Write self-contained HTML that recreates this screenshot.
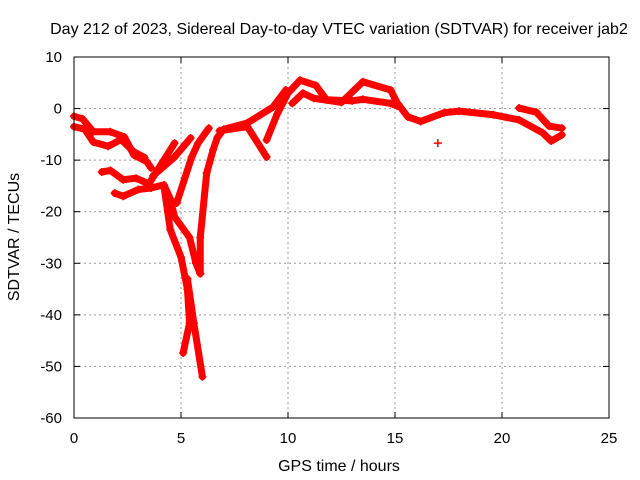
<!DOCTYPE html>
<html><head><meta charset="utf-8"><style>
body{margin:0;background:#fff}
svg{display:block;font-family:"Liberation Sans",sans-serif;font-size:15px}
</style></head><body>
<svg id="chart" width="640" height="480">
<text x="339" y="34" text-anchor="middle" font-size="16">Day 212 of 2023, Sidereal Day-to-day VTEC variation (SDTVAR) for receiver jab2</text>
<g id="grid"></g>
<g id="axes"></g>
<g id="series"></g>
<rect x="74" y="57" width="535" height="361" fill="none" stroke="#000"/>
<text x="339" y="471" text-anchor="middle" font-size="16">GPS time / hours</text>
<text transform="translate(19,237) rotate(-90)" text-anchor="middle" font-size="16">SDTVAR / TECUs</text>
</svg>
<script>
const xTicks=[0,5,10,15,20,25];
const yTicks=[10,0,-10,-20,-30,-40,-50,-60];
const trackA=[[0,-1.5],[0.4,-2],[0.9,-4.5],[1.7,-4.5],[2.35,-5.5],[2.8,-9],[3.4,-10.3],[3.6,-11.5]];
const trackB=[[0,-3.5],[0.5,-4],[0.9,-6.5],[1.6,-7.3],[2.2,-6],[2.8,-8.4],[3.3,-9.5]];
const trackC=[[1.3,-12.3],[1.7,-12],[2.3,-13.8],[2.9,-13.5],[3.5,-14.6],[4.2,-10],[4.7,-6.7]];
const trackC2=[[3.7,-13],[4.7,-9.4],[5.45,-5.7]];
const trackD=[[1.9,-16.4],[2.3,-17],[3.0,-15.7],[3.6,-15.4],[4.2,-14.8],[4.5,-17.5],[4.7,-21],[5.4,-25],[5.7,-30],[5.9,-32]];
const trackE=[[4.2,-15],[4.5,-23.5],[5.0,-28.8],[5.3,-35],[5.4,-41.6],[5.1,-47.4]];
const trackF=[[5.3,-33],[5.6,-41.6],[6.0,-52]];
const trackG=[[5.9,-32],[5.9,-25],[6.2,-12.5],[6.5,-8],[6.7,-5.6],[7.0,-4],[8.1,-2.8],[9.3,0.3],[9.9,3.6]];
const trackH=[[4.8,-18.3],[5.5,-9.4],[5.8,-6.7],[6.3,-3.8]];
const trackI=[[6.8,-4.3],[8.1,-3.5],[9.0,-9.4]];
const trackJ=[[9.0,-6.1],[9.5,-1],[10,3],[10.56,5.5],[11.3,4.5],[11.8,1.7],[13.0,1.5],[13.5,1.8],[14.8,1],[15.1,0.5]];
const trackK=[[10.2,1],[10.7,3],[11.2,2],[12.5,1.2],[13.5,5.2],[14.8,3.6],[15.1,1.1],[15.6,-1.6],[16.2,-2.5],[17.3,-0.8],[18.0,-0.5],[19.6,-1.2],[20.8,-2.2],[21.9,-4.7],[22.3,-6.3],[22.8,-5.1]];
const trackL=[[20.8,0.1],[21.6,-0.7],[22.2,-3.4],[22.8,-3.8]];
const trackM=[[17,-6.7]];
const tracks=[trackA,trackB,trackC,trackC2,trackD,trackE,trackF,trackG,trackH,trackI,trackJ,trackK,trackL,trackM];
const NS='http://www.w3.org/2000/svg';
const xs=v=>74+v*535/25;
const ys=v=>57+(10-v)*361/70;
function mk(t,a,p){const e=document.createElementNS(NS,t);for(const k in a)e.setAttribute(k,a[k]);p.appendChild(e);return e;}
const grid=document.getElementById('grid'),axes=document.getElementById('axes'),ser=document.getElementById('series');
xTicks.forEach(t=>{const x=xs(t);
 if(t>0&&t<25){const g=mk('line',{x1:x,x2:x,y1:57,y2:418,stroke:'#999','stroke-dasharray':'2,3'},grid);}
 mk('line',{x1:x,x2:x,y1:418,y2:412,stroke:'#000'},axes);mk('line',{x1:x,x2:x,y1:57,y2:63,stroke:'#000'},axes);
 const l=mk('text',{x:x,y:443,'text-anchor':'middle'},axes);l.textContent=t;
 });
yTicks.forEach(t=>{const y=ys(t);
 if(t<10&&t>-60){const g=mk('line',{x1:74,x2:609,y1:y,y2:y,stroke:'#999','stroke-dasharray':'2,3'},grid);}
 mk('line',{x1:74,x2:80,y1:y,y2:y,stroke:'#000'},axes);mk('line',{x1:609,x2:603,y1:y,y2:y,stroke:'#000'},axes);
 const l=mk('text',{x:62,y:y+5,'text-anchor':'end'},axes);l.textContent=t;
 });
tracks.forEach(tr=>{
 const pl=mk('polyline',{points:tr.map(p=>xs(p[0])+','+ys(p[1])).join(' '),fill:'none',stroke:'#f00','stroke-width':7,'stroke-linejoin':'round','stroke-linecap':'round'},ser);
 
 
 tr.forEach(p=>{const x=xs(p[0]),y=ys(p[1]);
  const m=mk('path',{d:`M${x-4},${y}H${x+4}M${x},${y-4}V${y+4}`,stroke:'#f00','stroke-width':1.5},ser);
  
  });
});
</script>
</body></html>
